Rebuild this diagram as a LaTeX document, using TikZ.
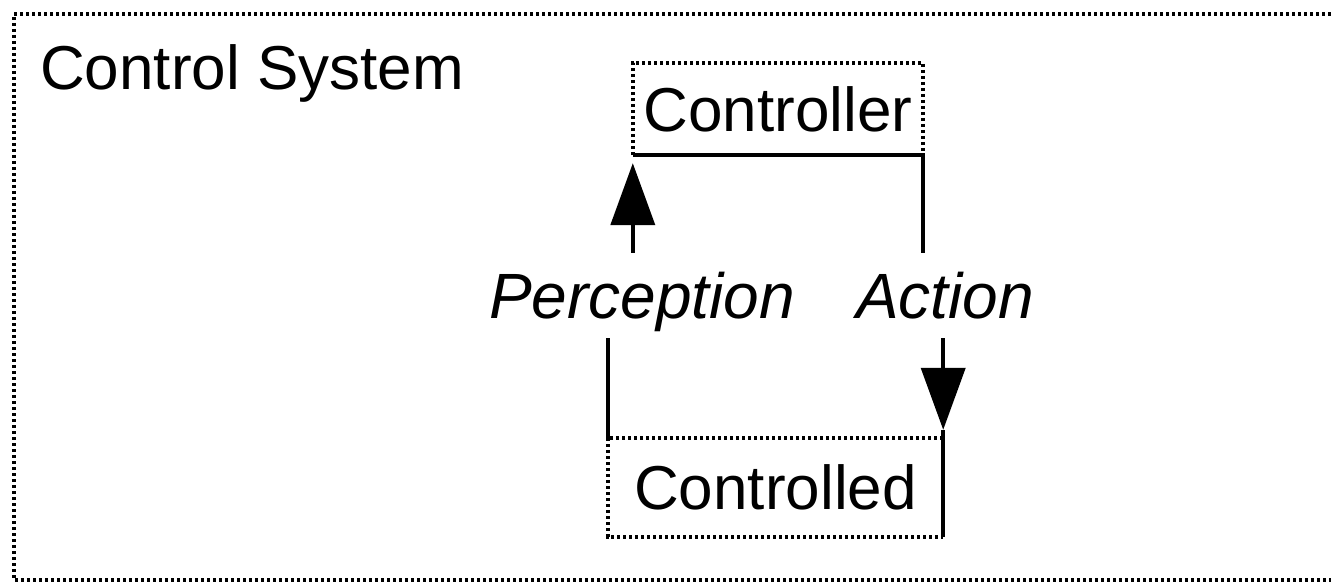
\documentclass[tikz,border=0pt]{standalone}
\usepackage{fontspec}
\setmainfont{Liberation Sans}
\usetikzlibrary{arrows.meta}
\tikzset{
  dotborder/.style={line width=3.5pt, dash pattern=on 3pt off 3pt},
  conn/.style={line width=4pt},
  boxnode/.style={inner sep=0pt, font=\fontsize{62}{70}\selectfont},
  lbl/.style={inner sep=0pt, anchor=base, text height=65pt, text depth=20pt,
    font=\fontsize{64}{70}\selectfont\itshape},
  tip/.style={-{Triangle[length=62pt,width=44pt]}}
}
\begin{document}
\begin{tikzpicture}[x=1pt,y=-1pt]
\useasboundingbox (0,0) rectangle (1331,583);
% outer frame
\draw[dotborder] (1331,14) -- (14,14) -- (14,580) -- (1331,580);
\node[anchor=base west, inner sep=0pt, font=\fontsize{62}{70}\selectfont] (title) at (40,90) {Control System};
% boxes
\node[boxnode, minimum width=290pt, minimum height=92pt] (ctl) at (778,109) {Controller};
\node[boxnode, minimum width=335pt, minimum height=99pt] (cd) at (775.5,487.5) {Controlled};
\draw[dotborder] (ctl.south west) -- (ctl.north west) -- (ctl.north east) -- (ctl.south east);
\draw[dotborder] (cd.north east) -- (cd.north west) -- (cd.south west) -- (cd.south east);
% labels
\node[lbl] (perc) at (642,318) {Perception};
\node[lbl] (act) at (945,318) {Action};
% connectors
\draw[conn, tip] (perc.north -| ctl.south west) -- ([yshift=-8pt]ctl.south west);
\draw[conn] (ctl.south west) -- (ctl.south east) -- (ctl.south east |- act.north);
\draw[conn] (perc.south -| cd.north west) -- (cd.north west);
\draw[conn, tip] (act.south -| cd.north east) -- ([yshift=8pt]cd.north east);
\draw[conn] ([yshift=8pt]cd.north east) -- (cd.south east);
\end{tikzpicture}
\end{document}
